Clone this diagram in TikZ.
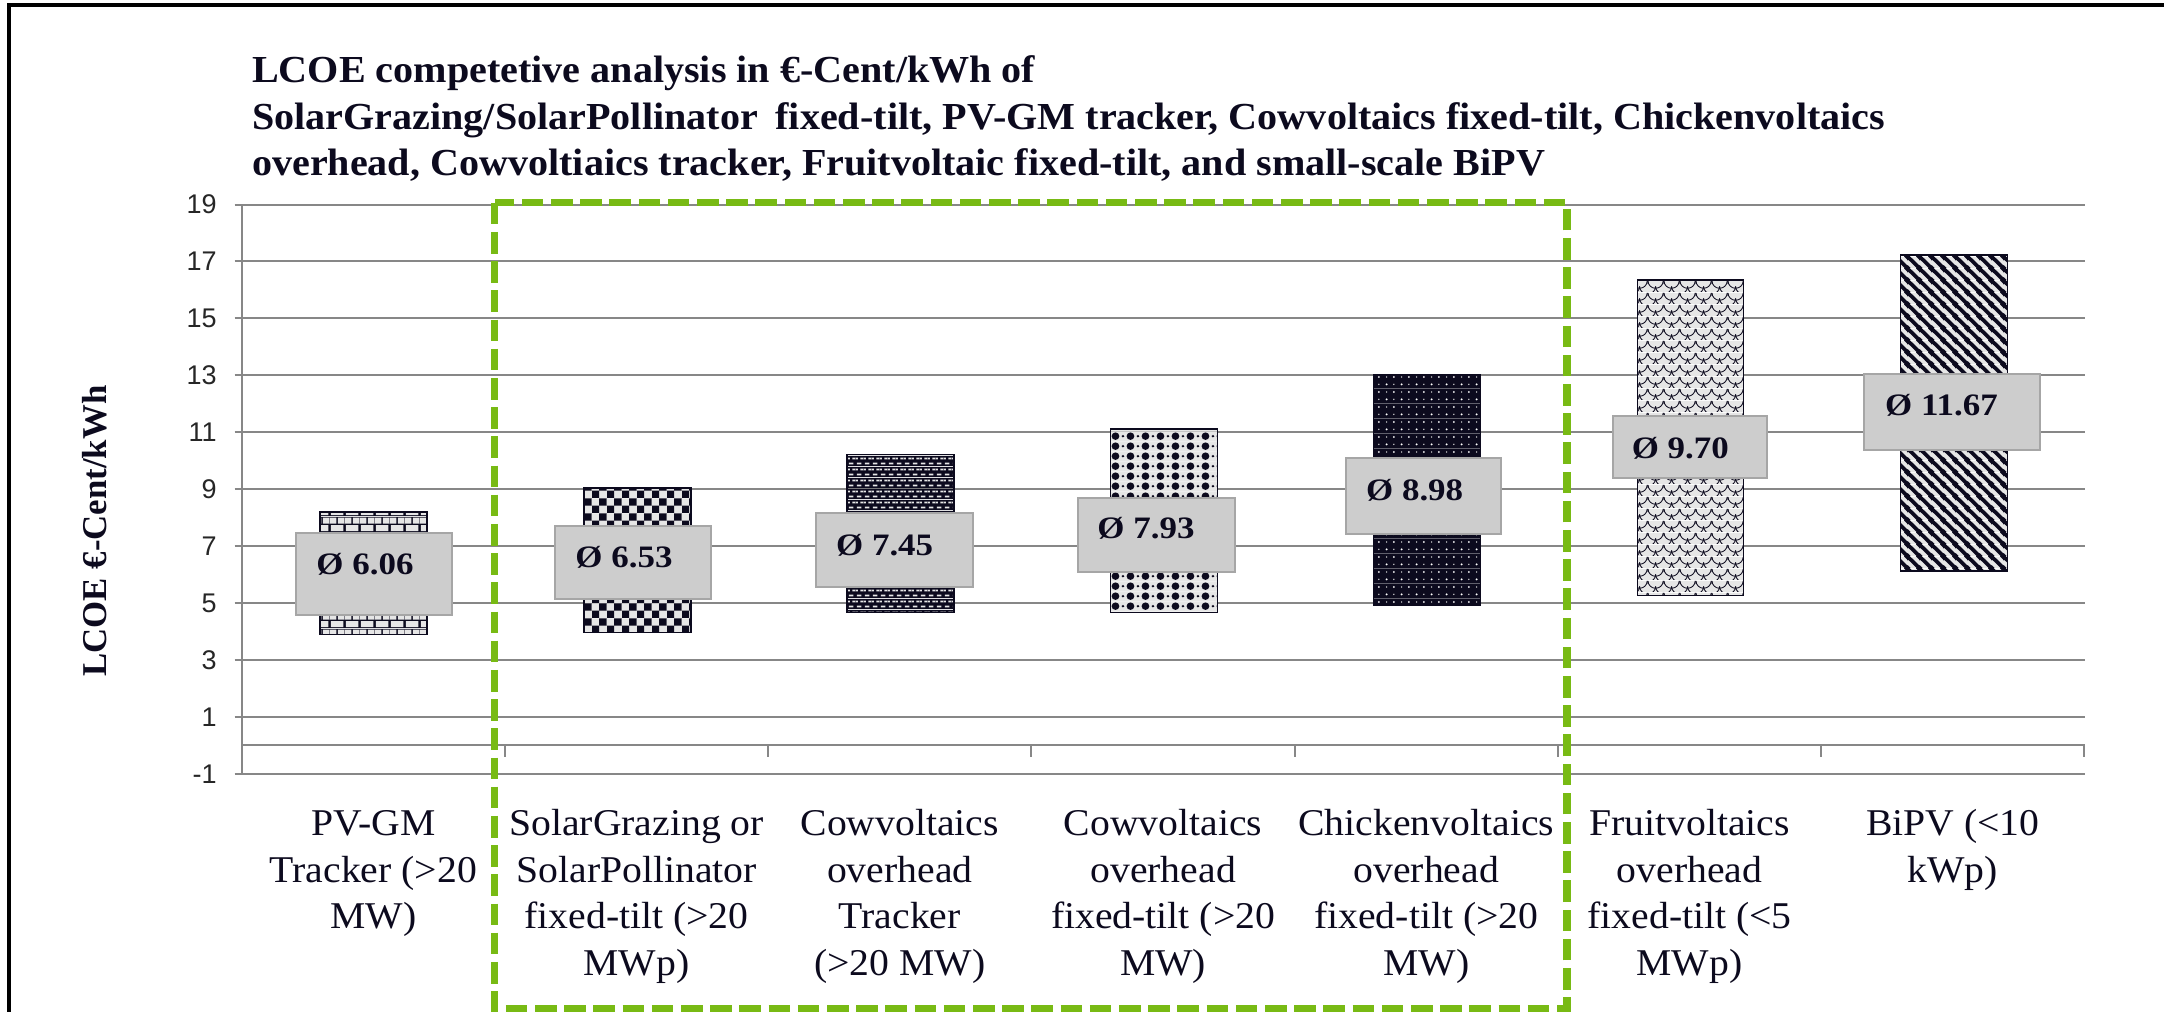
\documentclass[tikz,border=0pt]{standalone}
\usepackage{fontspec}
\setmainfont{Liberation Serif}
\newfontfamily\catfont{Liberation Serif}[FakeStretch=1.05]
\newfontfamily\valfont{Liberation Serif}[FakeStretch=1.12]
\newfontfamily\titfont{Liberation Serif}[FakeStretch=1.05]
\newfontfamily\axfont{Liberation Sans}
\usetikzlibrary{patterns.meta}

\definecolor{gridgray}{RGB}{135,135,135}
\definecolor{barink}{RGB}{12,10,30}
\definecolor{barlight}{RGB}{230,230,230}
\definecolor{boxfill}{RGB}{205,205,205}
\definecolor{boxline}{RGB}{166,166,166}
\definecolor{grn}{RGB}{120,186,20}

\newcommand\catstrut{\rule{0pt}{16pt}}

\tikzdeclarepattern{
  name=pbricks, type=colored,
  bottom left={(0pt,0pt)}, top right={(7.5pt,8pt)}, tile size={(7.5pt,8pt)},
  code={
    \fill[barink] (0pt,0pt) rectangle (7.5pt,8pt);
    \fill[barlight] (0.4pt,0.4pt) rectangle (7.1pt,3.6pt);
    \fill[barlight] (0pt,4.4pt) rectangle (3.35pt,7.6pt);
    \fill[barlight] (4.15pt,4.4pt) rectangle (7.5pt,7.6pt);
  }}
\tikzdeclarepattern{
  name=pchecker, type=colored,
  bottom left={(0pt,0pt)}, top right={(7.6pt,7.6pt)}, tile size={(7.6pt,7.6pt)},
  code={
    \fill[barlight] (0pt,0pt) rectangle (7.6pt,7.6pt);
    \fill[barink] (0pt,0pt) rectangle (3.8pt,3.8pt);
    \fill[barink] (3.8pt,3.8pt) rectangle (7.6pt,7.6pt);
  }}
\tikzdeclarepattern{
  name=pdashes, type=colored,
  bottom left={(0pt,0pt)}, top right={(4pt,5.3pt)}, tile size={(4pt,5.3pt)},
  code={
    \fill[barink] (0pt,0pt) rectangle (4pt,5.3pt);
    \fill[barlight] (0.5pt,0.8pt) rectangle (3pt,1.7pt);
    \fill[barlight] (2.5pt,3.45pt) rectangle (4pt,4.35pt);
    \fill[barlight] (0pt,3.45pt) rectangle (1pt,4.35pt);
  }}
\tikzdeclarepattern{
  name=pdiamonds, type=colored,
  bottom left={(0pt,0pt)}, top right={(7.7pt,5.15pt)}, tile size={(7.7pt,5.15pt)},
  code={
    \fill[barlight] (0pt,0pt) rectangle (7.7pt,5.15pt);
    \fill[barink] (3.85pt,2.575pt) circle (2pt);
    \fill[barink] (0pt,2.575pt) circle (0.7pt);
    \fill[barink] (7.7pt,2.575pt) circle (0.7pt);
  }}
\tikzdeclarepattern{
  name=pwhitedots, type=colored,
  bottom left={(0pt,0pt)}, top right={(7.6pt,7.4pt)}, tile size={(7.6pt,7.4pt)},
  code={
    \fill[barink] (0pt,0pt) rectangle (7.6pt,7.4pt);
    \fill[white] (1.9pt,1.85pt) circle (0.55pt);
    \fill[white] (5.7pt,5.55pt) circle (0.55pt);
    \fill[white!85!black] (5.7pt,1.85pt) circle (0.4pt);
    \fill[white!85!black] (1.9pt,5.55pt) circle (0.4pt);
  }}
\tikzdeclarepattern{
  name=pscales, type=colored,
  bottom left={(0pt,0pt)}, top right={(8pt,6pt)}, tile size={(8pt,6pt)},
  code={
    \fill[barlight] (0pt,0pt) rectangle (8pt,6pt);
    \draw[barink, line width=0.45pt] (0pt,6pt) arc[start angle=180, end angle=360, radius=4pt];
    \draw[barink, line width=0.45pt] (0pt,-1pt) arc[start angle=270, end angle=360, radius=4pt];
    \draw[barink, line width=0.45pt] (4pt,3pt) arc[start angle=180, end angle=270, radius=4pt];
  }}
\tikzdeclarepattern{
  name=pstripes, type=colored,
  bottom left={(0pt,0pt)}, top right={(6pt,6pt)}, tile size={(6pt,6pt)},
  code={
    \fill[barlight] (0pt,0pt) rectangle (6pt,6pt);
    \draw[barink, line width=2pt] (-1pt,7pt) -- (7pt,-1pt);
    \draw[barink, line width=2pt] (-1pt,1pt) -- (1pt,-1pt);
    \draw[barink, line width=2pt] (5pt,7pt) -- (7pt,5pt);
  }}

\tikzset{
  gridline/.style={draw=gridgray, line width=1pt},
  barbox/.style={draw=barink, line width=0.8pt},
  vbox/.style={fill=boxfill, draw=boxline, line width=1pt},
  valtext/.style={anchor=base west, inner sep=0pt, font=\valfont\bfseries\fontsize{15.6}{18}\selectfont, text=barink},
  catlab/.style={anchor=north, align=center, inner sep=0pt, font=\catfont\fontsize{18.9}{23.35}\selectfont, text=barink},
  ticklab/.style={anchor=east, inner sep=0pt, font=\axfont\fontsize{13.5}{15}\selectfont, text=black!85},
  titleline/.style={anchor=base west, inner sep=0pt, font=\titfont\bfseries\fontsize{19.1}{20}\selectfont, text=barink},
  greenbox/.style={draw=grn, line width=3.75pt, dash pattern=on 10.8pt off 3.8pt},
}

\begin{document}
\begin{tikzpicture}[x=0.5pt, y=-0.5pt]
\useasboundingbox (0,0) rectangle (2164,1012);
\fill[white] (0,0) rectangle (2164,1012);

% frame
\draw[black, line width=2pt] (9,1012) -- (9,4.5) -- (2164,4.5);

% title
\node[titleline] (title1) at (251.7,82) {LCOE competetive analysis in €-Cent/kWh of};
\node[titleline] (title2) at (251.7,129) {SolarGrazing/SolarPollinator\hspace{0.2em} fixed-tilt, PV-GM tracker, Cowvoltaics fixed-tilt, Chickenvoltaics};
\node[titleline] (title3) at (251.7,175) {overhead, Cowvoltiaics tracker, Fruitvoltaic fixed-tilt, and small-scale BiPV};

% y label
\node[rotate=90, inner sep=0pt, font=\bfseries\fontsize{17.4}{20}\selectfont, text=barink] (ylab) at (95,531) {LCOE €-Cent/kWh};

\begin{scope}[shift={(0,745.3)}, y={(0pt,14.23pt)}]
  % gridlines
  \foreach \v in {-1,1,3,...,19} {
    \draw[gridline] (234.5,\v) -- (2084.5,\v);
    \node[ticklab] (t\v) at (217,\v) {\v};
  }
  \draw[gridline] (241.7,-1) -- (241.7,19);
  \draw[gridline] (241.7,0) -- (2084.5,0);
  \foreach \k in {1,...,7} {
    \draw[gridline] ({241.7+263.25*\k},0) -- ({241.7+263.25*\k},-0.42);
  }

  % bars
  \path[barbox, pattern=pbricks]    (319.9,3.89) rectangle (426.9,8.19);
  \path[barbox, pattern=pchecker]   (583.7,3.96) rectangle (690.7,9.05);
  \path[barbox, pattern=pdashes]    (847,4.66) rectangle (954,10.22);
  \path[barbox, pattern=pdiamonds]  (1110.5,4.67) rectangle (1217.5,11.11);
  \path[barbox, pattern=pwhitedots] (1373.5,4.91) rectangle (1480.5,13.01);
  \path[barbox, pattern=pscales]    (1637.5,5.26) rectangle (1743.5,16.35);
  \path[barbox, pattern=pstripes]   (1900.5,6.12) rectangle (2007.5,17.23);
\end{scope}

% value boxes
\draw[vbox] (296,533) rectangle (451.5,615);
\node[valtext] (m1) at (316,574.6) {Ø 6.06};
\draw[vbox] (555.3,526) rectangle (711,599);
\node[valtext] (m2) at (575,567.3) {Ø 6.53};
\draw[vbox] (815.7,513.3) rectangle (973,587.3);
\node[valtext] (m3) at (835.7,555) {Ø 7.45};
\draw[vbox] (1078,497.7) rectangle (1234.6,571.7);
\node[valtext] (m4) at (1097,538.3) {Ø 7.93};
\draw[vbox] (1345.7,458.3) rectangle (1501.3,534);
\node[valtext] (m5) at (1365.7,500.7) {Ø 8.98};
\draw[vbox] (1612.6,416) rectangle (1767.3,478.3);
\node[valtext] (m6) at (1631.4,458.3) {Ø 9.70};
\draw[vbox] (1864.4,374) rectangle (2040.2,450.3);
\node[valtext] (m7) at (1884.8,415) {Ø 11.67};

% category labels (first baseline at y = 835)
\node[catlab] (c1) at (373.4,803) {\catstrut PV-GM\\Tracker (>20\\MW)};
\node[catlab] (c2) at (636.6,803) {\catstrut SolarGrazing or\\SolarPollinator\\fixed-tilt (>20\\MWp)};
\node[catlab] (c3) at (899.8,803) {\catstrut Cowvoltaics\\overhead\\Tracker\\(>20 MW)};
\node[catlab] (c4) at (1163.1,803) {\catstrut Cowvoltaics\\overhead\\fixed-tilt (>20\\MW)};
\node[catlab] (c5) at (1426.3,803) {\catstrut Chickenvoltaics\\overhead\\fixed-tilt (>20\\MW)};
\node[catlab] (c6) at (1689.6,803) {\catstrut Fruitvoltaics\\overhead\\fixed-tilt (<5\\MWp)};
\node[catlab] (c7) at (1952.8,803) {\catstrut BiPV (<10\\kWp)};

% green dashed highlight
\draw[greenbox] (494.5,202.7) rectangle (1566.8,1009);
\end{tikzpicture}
\end{document}
